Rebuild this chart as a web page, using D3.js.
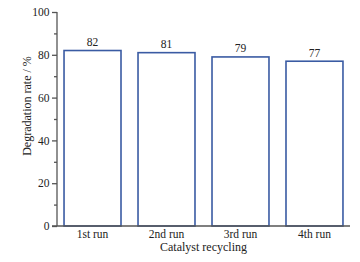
<!DOCTYPE html>
<html>
<head>
<meta charset="utf-8">
<script src="https://cdn.jsdelivr.net/npm/d3@7"></script>
<style>
  body { margin: 0; background: #fff; }
  svg text { font-family: "Liberation Serif", "Times New Roman", serif; fill: #222; }
</style>
</head>
<body>
<div id="chart"></div>
<script>
// Data
var runs = ["1st run", "2nd run", "3rd run", "4th run"];
var rates = [82, 81, 79, 77];
var yTicks = [0, 20, 40, 60, 80, 100];
var yMinor = [10, 30, 50, 70, 90];

var width = 360, height = 262;
var mLeft = 57, mRight = 350, mTop = 12, mBottom = 226;

var svg = d3.select("#chart").append("svg")
    .attr("width", width)
    .attr("height", height);

var x = d3.scaleBand()
    .domain(runs)
    .range([mLeft, mRight])
    .paddingInner(0.23)
    .paddingOuter(0.095);

var y = d3.scaleLinear()
    .domain([0, 100])
    .range([mBottom, mTop]);

// Bars
svg.selectAll(".bar")
    .data(rates)
    .enter().append("rect")
    .attr("class", "bar")
    .attr("x", function(d, i) { return x(runs[i]); })
    .attr("y", function(d) { return y(d); })
    .attr("width", x.bandwidth())
    .attr("height", function(d) { return y(0) - y(d); })
    .style("fill", "white")
    .style("stroke", "#3a5ba3")
    .style("stroke-width", 1.6);

// Value labels
svg.selectAll(".val")
    .data(rates)
    .enter().append("text")
    .attr("class", "val")
    .attr("x", function(d, i) { return x(runs[i]) + x.bandwidth() / 2; })
    .attr("y", function(d) { return y(d) - 4.5; })
    .attr("text-anchor", "middle")
    .attr("font-size", "11.5px")
    .text(function(d) { return d; });

// Y axis with minor ticks
var yAxis = svg.append("g")
    .attr("transform", "translate(" + mLeft + ",0)")
    .call(d3.axisLeft(y).tickValues(yTicks).tickSize(5).tickPadding(2.5));
svg.append("g")
    .attr("transform", "translate(" + mLeft + ",0)")
    .call(d3.axisLeft(y).tickValues(yMinor).tickSize(3).tickFormat(""))
    .select(".domain").remove();

// X axis
var xAxis = svg.append("g")
    .attr("transform", "translate(0," + mBottom + ")")
    .call(d3.axisBottom(x).tickSize(0).tickPadding(3.5));

svg.selectAll("g").attr("font-family", "Liberation Serif, serif");
svg.selectAll(".domain, .tick line")
    .attr("stroke", "#555")
    .attr("stroke-width", 1.3);
svg.selectAll(".tick text")
    .attr("font-size", "11.5px")
    .style("font-family", "'Liberation Serif', serif")
    .attr("fill", "#222");
yAxis.select(".domain").attr("d", "M0," + mBottom + "V" + mTop);
xAxis.select(".domain").attr("d", "M" + (mLeft - 5) + ",0H" + mRight);

// Axis titles
svg.append("text")
    .attr("x", (mLeft + mRight) / 2)
    .attr("y", 251)
    .attr("text-anchor", "middle")
    .attr("font-size", "12px")
    .text("Catalyst recycling");

svg.append("text")
    .attr("transform", "translate(31,106) rotate(-90)")
    .attr("text-anchor", "middle")
    .attr("font-size", "12px")
    .text("Degradation rate / %");
</script>
</body>
</html>
